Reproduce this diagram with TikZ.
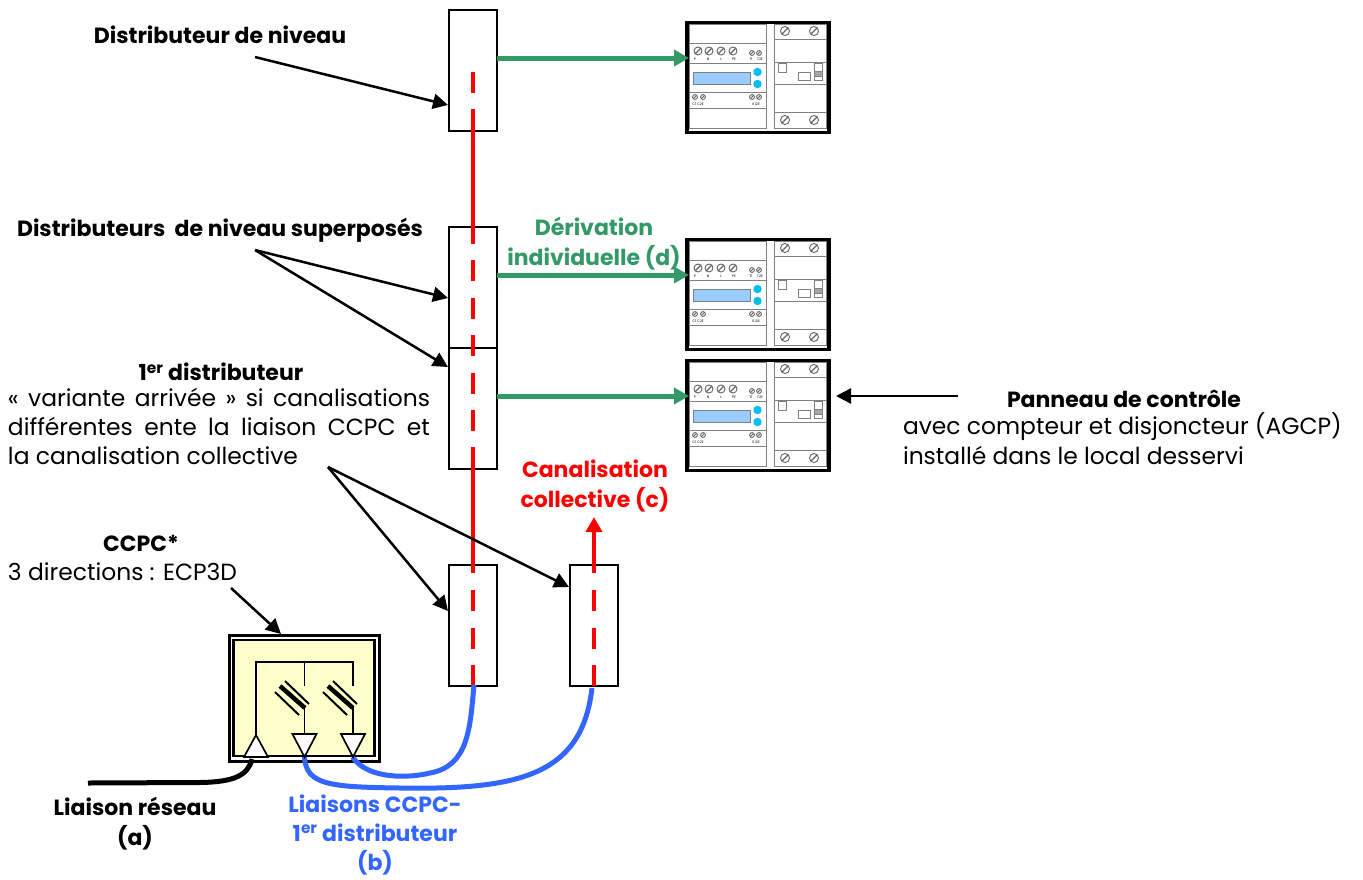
\documentclass[tikz,border=0pt]{standalone}
\usepackage{xcolor}
\usepackage{fontspec}
\setmainfont{Poppins}
\usetikzlibrary{arrows.meta}
\tikzset{
  labelText/.style={inner sep=0pt,outer sep=0pt,font=\fontsize{23.4}{29.2}\selectfont},
  labelBold/.style={inner sep=0pt,outer sep=0pt,font=\fontsize{22}{30}\selectfont\bfseries},
  tinyText/.style={inner sep=0pt,outer sep=0pt,font=\fontsize{3.5}{4}\selectfont},
  distBox/.style={draw=black,line width=1.7pt,minimum width=48pt,minimum height=121pt,inner sep=0pt,outer sep=0pt},
  callOut/.style={draw=black,line width=2.5pt,-{Triangle[length=15pt,width=15pt]}},
  feedGreen/.style={draw=greenColor,line width=5pt,-{Triangle[length=15pt,width=16pt]}},
  lineRed/.style={draw=redColor,line width=4.7pt},
  dashRed/.style={lineRed,dash pattern=on 21pt off 16.5pt},
  lineBlue/.style={draw=blueColor,line width=5pt},
  moduleLine/.style={draw=black!50,line width=1pt},
  wireLine/.style={draw=black,line width=1.8pt},
  screwHead/.style={draw=black!60,line width=.9pt},
  fuseThin/.style={draw=black,line width=2pt},
  fuseThick/.style={draw=black,line width=4.5pt},
  arrowHead/.style={draw=black,fill=white,line width=1.7pt,line join=miter}
}
\begin{document}
\begin{tikzpicture}[x=1pt,y=-1pt]
\definecolor{fillColor}{RGB}{255,255,255}
\definecolor{greenColor}{RGB}{51,153,102}
\definecolor{redColor}{RGB}{255,0,0}
\definecolor{blueColor}{RGB}{51,102,255}
\definecolor{ccpcColor}{RGB}{255,255,204}
\definecolor{lcdColor}{RGB}{153,204,255}
\definecolor{ledColor}{RGB}{0,191,240}
\path[use as bounding box,fill=fillColor] (0,0) rectangle (1363,879);

% control panels
\foreach \dy/\nm in {0/panelA,217/panelB,338/panelC}{
\begin{scope}[shift={(0,\dy)}]
\node[draw=black,line width=3.5pt,minimum width=142pt,minimum height=110pt,inner sep=0pt] (\nm) at (758,77.5) {};
\path[moduleLine] (689.5,24) rectangle (766,128.5);
\path[moduleLine] (774,24) rectangle (826,128.5);
\foreach \yy in {43,63,92,108} \path[moduleLine] (689.5,\yy) -- (766,\yy);
\foreach \yy in {39,62,84,112} \path[moduleLine] (774,\yy) -- (826,\yy);
\path[draw=black!50,fill=lcdColor,line width=.8pt] (693,72) rectangle (750,84);
\path[fill=ledColor] (757.5,72) circle (4.2);
\path[fill=ledColor] (757.5,84) circle (4.2);
\foreach \xx in {698,709,721,733}{
  \path[screwHead] (\xx,51) circle (4);
  \path[screwHead,line width=1.2pt] (\xx-3,54) -- (\xx+3,48);
}
\foreach \xx/\yy in {752/53,759/53,695/97,703/97,752/97,759/97}{
  \path[screwHead] (\xx,\yy) circle (2.4);
  \path[screwHead] (\xx-1.7,\yy+1.7) -- (\xx+1.7,\yy-1.7);
}
\foreach \xx/\yy in {785/31,814/31,785/120,814/120}{
  \path[screwHead] (\xx,\yy) circle (4.5);
  \path[screwHead,line width=1.2pt] (\xx-3.2,\yy+3.2) -- (\xx+3.2,\yy-3.2);
}
\path[draw=black!50,line width=.7pt] (778,63) rectangle (786,72);
\path[draw=black!50,line width=.7pt] (798,72) rectangle (810,80);
\path[draw=black!50,line width=.7pt] (814,63) rectangle (822,80);
\path[draw=black!50,fill=black!35,line width=.5pt] (814,71) rectangle (822,76);
\node[tinyText] (pinP\nm) at (695,59) {P};
\node[tinyText] (pinN\nm) at (708,59) {N};
\node[tinyText] (pinL\nm) at (721,59) {L};
\node[tinyText] (pinE\nm) at (734,59) {PE};
\node[tinyText] (pinT\nm) at (751,59) {T1};
\node[tinyText] (pinU\nm) at (760,59) {T2E};
\node[tinyText] (pinC\nm) at (698,104) {C1 C2E};
\node[tinyText] (pinI\nm) at (756,104) {I1 I2E};
\end{scope}
}

% distribution boxes
\node[distBox] (distA) at (473,70.5) {};
\node[distBox] (distB) at (473,287.5) {};
\node[distBox] (distC) at (473,408.5) {};
\node[distBox] (distD) at (473,625.5) {};
\node[distBox] (distE) at (594,625.5) {};

% collective line
\path[dashRed] (473,72) -- (473,93);
\path[lineRed] (473,109) -- (473,244);
\path[dashRed] (473,260) -- (473,447);
\path[lineRed] (473,447) -- (473,573);
\path[dashRed] (473,590) -- (473,686);
\path[dashRed] (594,590) -- (594,686);
\coordinate (topRed) at (594,517);
\coordinate (baseRed) at (594,573);
\draw[lineRed,-{Triangle[length=15pt,width=16pt]}] (baseRed) -- (topRed);

% individual lines
\coordinate (feedA) at (689,58);
\coordinate (feedB) at (689,275);
\coordinate (feedC) at (689,396);
\draw[feedGreen] (distA.east |- feedA) -- (feedA);
\draw[feedGreen] (distB.east |- feedB) -- (feedB);
\draw[feedGreen] (distC.east |- feedC) -- (feedC);

% CCPC
\node[draw=black,line width=3pt,fill=white,minimum width=150pt,minimum height=126pt,inner sep=0pt] (ccpcOut) at (304,698) {};
\node[draw=black,line width=2.6pt,fill=ccpcColor,minimum width=141pt,minimum height=116pt,inner sep=0pt] (ccpcIn) at (304,698) {};
\path[wireLine] (256,736) -- (256,662) -- (353,662) -- (353,686);
\path[wireLine] (304.5,662) -- (304.5,686);
\path[wireLine] (304.5,707) -- (304.5,735);
\path[wireLine] (353,707) -- (353,735);
\foreach \xx in {0,48}{
\path[fuseThin] (275+\xx,692) -- (299+\xx,715);
\path[fuseThick] (280+\xx,686) -- (305+\xx,708);
\path[fuseThin] (285+\xx,681) -- (309+\xx,704);
}
\coordinate (wireIn) at (252,759);
\coordinate (wireOutA) at (304.5,757);
\coordinate (wireOutB) at (352.5,757);
\coordinate (wireNet) at (88,783);
\coordinate (endLinkD) at (474,685);
\coordinate (endLinkE) at (592,688);
\draw[black,line width=5pt] (wireNet) -- (200,782.5) .. controls (235,782) and (248,775) .. (wireIn);
\draw[lineBlue] (wireOutB) .. controls (368,780) and (410,778) .. (430,773) .. controls (468,766) and (470,730) .. (endLinkD);
\draw[lineBlue] (wireOutA) .. controls (306,785) and (330,787) .. (400,788) .. controls (520,790) and (582,775) .. (endLinkE);
\path[arrowHead] (256,735) -- (268,757) -- (244,757) -- cycle;
\path[arrowHead] (292.5,734) -- (316.5,734) -- (304.5,757) -- cycle;
\path[arrowHead] (341,734) -- (365,734) -- (353,757) -- cycle;

% labels
\node[labelBold] (lblLevel) at (220,35) {Distributeur de niveau};
\node[labelBold] (lblStack) at (220,230) {Distributeurs \ de niveau superposés};
\node[labelBold] (lblFirst) at (221,372) {1\textsuperscript{er} distributeur};
\node[labelText,text width=422pt,align=justify,anchor=north west] (lblVariant) at (8,388) {\hyphenpenalty=10000 «~variante arrivée~» si canalisations\linebreak différentes ente la liaison CCPC et\linebreak la canalisation collective};
\node[labelBold] (lblCcpc) at (141,543) {CCPC*};
\node[labelText,anchor=west] (lblDir) at (8,572) {3 directions : ECP3D};
\node[labelBold,align=center] (lblNet) at (135,824) {Liaison réseau\\(a)};
\node[labelBold,align=center,text=blueColor,font=\fontsize{22}{29}\selectfont\bfseries] (lblLink) at (375,835) {Liaisons CCPC-\\1\textsuperscript{er} distributeur\\(b)};
\node[labelBold,align=center,text=redColor] (lblColl) at (595,485.5) {Canalisation\\collective (c)};
\node[labelBold,align=center,text=greenColor] (lblDeriv) at (594,243.5) {Dérivation\\individuelle (d)};
\node[labelBold] (lblPanel) at (1124,399) {Panneau de contrôle};
\node[labelText,anchor=north west,align=left] (lblMeter) at (903,413) {avec compteur et disjoncteur (AGCP)\\installé dans le local desservi};

% callouts
\coordinate (fromLevel) at (255,57);
\coordinate (fromStack) at (255,250);
\coordinate (fromFirst) at (328,467);
\coordinate (fromCcpc) at (231,588);
\coordinate (fromPanel) at (958,396);
\coordinate (toLevel) at (448,105);
\coordinate (toStackA) at (448,298);
\coordinate (toStackB) at (448,367);
\coordinate (toFirstA) at (448,611);
\coordinate (toFirstB) at (569,587);
\coordinate (toCcpc) at (281,634);
\coordinate (toPanel) at (836,396);
\draw[callOut] (fromLevel) -- (toLevel);
\draw[callOut] (fromStack) -- (toStackA);
\draw[callOut] (fromStack) -- (toStackB);
\draw[callOut] (fromFirst) -- (toFirstA);
\draw[callOut] (fromFirst) -- (toFirstB);
\draw[callOut] (fromCcpc) -- (toCcpc);
\draw[callOut] (fromPanel) -- (toPanel);
\end{tikzpicture}
\end{document}
